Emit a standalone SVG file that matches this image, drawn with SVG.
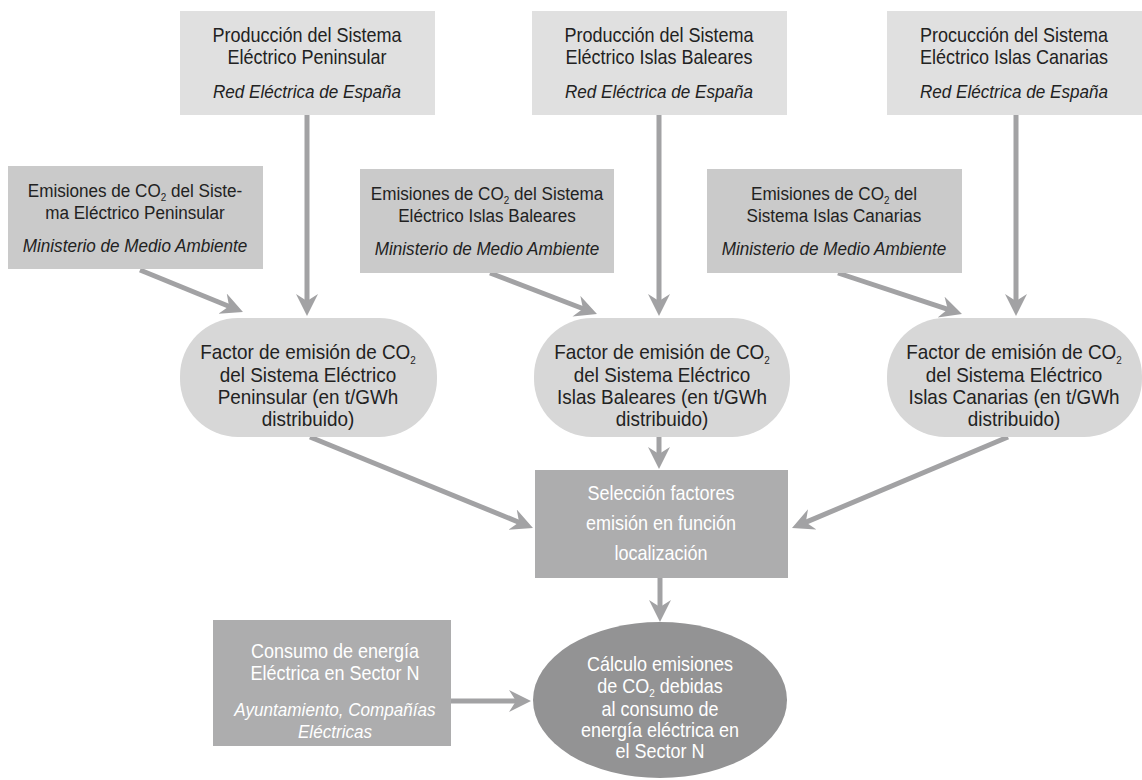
<svg xmlns="http://www.w3.org/2000/svg" width="1142" height="780" viewBox="0 0 1142 780">
<style>
text{font-family:"Liberation Sans",Arial,sans-serif;font-size:20px;fill:#222;text-anchor:middle;transform-box:fill-box;transform-origin:center;transform:scaleX(0.9)}
.it{font-style:italic;font-size:19px}
.e{font-size:19px}
.p{font-size:21px}
.w{fill:#fff}
.top{fill:#e0e0e0}
.em{fill:#cacaca}
.pill{fill:#d7d7d7}
.mid{fill:#adadae}
.dark{fill:#939394}
.c{stroke:#a2a2a4;stroke-width:5;fill:none;marker-end:url(#ah)}
.s{font-size:11px}
</style>
<defs>
<marker id="ah" markerWidth="30" markerHeight="24" refX="8" refY="11" orient="auto" markerUnits="userSpaceOnUse">
<path d="M0,0 L22,11 L0,22 L7,11 Z" fill="#a2a2a4"/>
</marker>
</defs>
<g id="connectors">
<line class="c" x1="307" y1="115" x2="307" y2="302"/>
<line class="c" x1="659" y1="115" x2="659" y2="302"/>
<line class="c" x1="1016" y1="115" x2="1016" y2="302"/>
<line class="c" x1="140" y1="270" x2="230" y2="306.7"/>
<line class="c" x1="490" y1="273" x2="583.9" y2="309"/>
<line class="c" x1="838" y1="273" x2="948.7" y2="309.6"/>
<line class="c" x1="310" y1="437" x2="520" y2="522.7"/>
<line class="c" x1="659" y1="437" x2="659" y2="455"/>
<line class="c" x1="1008" y1="437" x2="804.9" y2="522.6"/>
<line class="c" x1="660" y1="578" x2="660" y2="608"/>
<line class="c" x1="451" y1="701" x2="517" y2="701"/>
</g>
<g id="prod-peninsular">
<rect class="top" x="180" y="11" width="255" height="104"/>
<text x="307" y="42">Producción del Sistema</text>
<text x="307" y="64">Eléctrico Peninsular</text>
<text class="it" x="307" y="98">Red Eléctrica de España</text>
</g>
<g id="prod-baleares">
<rect class="top" x="532" y="11" width="255" height="104"/>
<text x="659" y="42">Producción del Sistema</text>
<text x="659" y="64">Eléctrico Islas Baleares</text>
<text class="it" x="659" y="98">Red Eléctrica de España</text>
</g>
<g id="prod-canarias">
<rect class="top" x="887" y="11" width="255" height="104"/>
<text x="1014" y="42">Procucción del Sistema</text>
<text x="1014" y="64">Eléctrico Islas Canarias</text>
<text class="it" x="1014" y="98">Red Eléctrica de España</text>
</g>
<g id="emis-peninsular">
<rect class="em" x="8" y="166" width="255" height="103"/>
<text class="e" x="135" y="197">Emisiones de CO<tspan class="s" dy="4">2</tspan><tspan dy="-4"> del Siste-</tspan></text>
<text class="e" x="135" y="219">ma Eléctrico Peninsular</text>
<text class="it" x="135" y="252">Ministerio de Medio Ambiente</text>
</g>
<g id="emis-baleares">
<rect class="em" x="360" y="169" width="254" height="104"/>
<text class="e" x="487" y="200">Emisiones de CO<tspan class="s" dy="4">2</tspan><tspan dy="-4"> del Sistema</tspan></text>
<text class="e" x="487" y="222">Eléctrico Islas Baleares</text>
<text class="it" x="487" y="255">Ministerio de Medio Ambiente</text>
</g>
<g id="emis-canarias">
<rect class="em" x="707" y="169" width="255" height="104"/>
<text class="e" x="834" y="200">Emisiones de CO<tspan class="s" dy="4">2</tspan><tspan dy="-4"> del</tspan></text>
<text class="e" x="834" y="222">Sistema Islas Canarias</text>
<text class="it" x="834" y="255">Ministerio de Medio Ambiente</text>
</g>
<g id="factor-peninsular">
<rect class="pill" x="180" y="318" width="257" height="119" rx="58" ry="58"/>
<text class="p" x="308" y="359">Factor de emisión de CO<tspan class="s" dy="5">2</tspan></text>
<text class="p" x="308" y="382">del Sistema Eléctrico</text>
<text class="p" x="308" y="404">Peninsular (en t/GWh</text>
<text class="p" x="308" y="426">distribuido)</text>
</g>
<g id="factor-baleares">
<rect class="pill" x="534" y="318" width="256" height="119" rx="58" ry="58"/>
<text class="p" x="662" y="359">Factor de emisión de CO<tspan class="s" dy="5">2</tspan></text>
<text class="p" x="662" y="382">del Sistema Eléctrico</text>
<text class="p" x="662" y="404">Islas Baleares (en t/GWh</text>
<text class="p" x="662" y="426">distribuido)</text>
</g>
<g id="factor-canarias">
<rect class="pill" x="887" y="318" width="255" height="119" rx="58" ry="58"/>
<text class="p" x="1014" y="359">Factor de emisión de CO<tspan class="s" dy="5">2</tspan></text>
<text class="p" x="1014" y="382">del Sistema Eléctrico</text>
<text class="p" x="1014" y="404">Islas Canarias (en t/GWh</text>
<text class="p" x="1014" y="426">distribuido)</text>
</g>
<g id="seleccion">
<rect class="mid" x="535" y="470" width="253" height="108"/>
<text class="w" x="661" y="500">Selección factores</text>
<text class="w" x="661" y="530">emisión en función</text>
<text class="w" x="661" y="560">localización</text>
</g>
<g id="consumo">
<rect class="mid" x="213" y="620" width="238" height="126"/>
<text class="w" x="335" y="658">Consumo de energía</text>
<text class="w" x="335" y="680">Eléctrica en Sector N</text>
<text class="w it" x="335" y="716">Ayuntamiento, Compañías</text>
<text class="w it" x="335" y="738">Eléctricas</text>
</g>
<g id="calculo">
<ellipse class="dark" cx="660" cy="700" rx="127" ry="78"/>
<text class="w" x="660" y="671">Cálculo emisiones</text>
<text class="w" x="660" y="693">de CO<tspan class="s" dy="4">2</tspan><tspan dy="-4"> debidas</tspan></text>
<text class="w" x="660" y="716">al consumo de</text>
<text class="w" x="660" y="737">energía eléctrica en</text>
<text class="w" x="660" y="758">el Sector N</text>
</g>
</svg>
